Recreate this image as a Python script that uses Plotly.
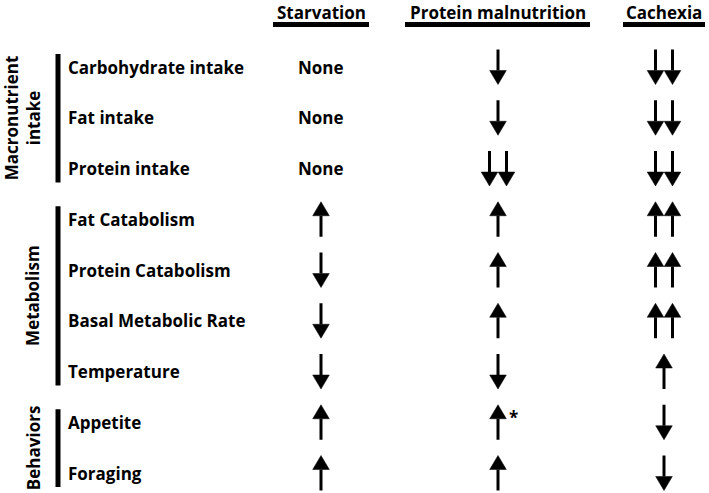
import plotly.graph_objects as go

# ---------------- data ----------------
columns = ["Starvation", "Protein malnutrition", "Cachexia"]
rows = ["Carbohydrate intake", "Fat intake", "Protein intake",
        "Fat Catabolism", "Protein Catabolism", "Basal Metabolic Rate", "Temperature",
        "Appetite", "Foraging"]
groups = ["Macronutrient<br>intake", "Metabolism", "Behaviors"]
group_rows = [[0, 1, 2], [3, 4, 5, 6], [7, 8]]
# value: "None" text, +n = n up arrows, -n = n down arrows
starvation = ["None", "None", "None", 1, -1, -1, -1, 1, 1]
protein_malnutrition = [-1, -1, -2, 1, 1, 1, -1, 1, 1]
cachexia = [-2, -2, -2, 2, 2, 2, 1, -1, -1]
notes_pm = ["", "", "", "", "", "", "", "*", ""]

# ---------------- layout constants ----------------
W, H = 709, 493
FONT = "Open Sans"
FS = 17
col_x = [321, 498, 664]
ul_span = [(273, 369), (405, 590), (623, 705)]
row_y0, row_dy = 67, 50.75
label_x = 66
bar_x = 58
group_label_x = [22, 33, 33]

def ry(i):
    return row_y0 + i * row_dy

shapes = []
annotations = []

def arrow(xc, yc, d):
    L, h, w = 17.5, 14, 8.3
    if d > 0:
        tip, base, tail = yc - L, yc - L + h, yc + L
    else:
        tip, base, tail = yc + L, yc + L - h, yc - L
    shapes.append(dict(type="line", x0=xc, x1=xc, y0=tail, y1=base,
                       line=dict(color="black", width=3), xref="x", yref="y"))
    shapes.append(dict(type="path",
                       path=f"M {xc-w},{base} L {xc+w},{base} L {xc},{tip} Z",
                       fillcolor="black", line=dict(color="black", width=0.5),
                       xref="x", yref="y"))

# headers
for c, name in enumerate(columns):
    annotations.append(dict(x=col_x[c], y=12, text=name, showarrow=False,
                            font=dict(family=FONT, size=FS, color="black", weight=700),
                            xanchor="center", yanchor="middle"))
    shapes.append(dict(type="rect", x0=ul_span[c][0], x1=ul_span[c][1], y0=22, y1=27,
                       fillcolor="black", line=dict(width=0), xref="x", yref="y"))

# row labels
for i, r in enumerate(rows):
    annotations.append(dict(x=label_x, y=ry(i), text=r, showarrow=False,
                            font=dict(family=FONT, size=FS, color="black", weight=700),
                            xanchor="left", yanchor="middle"))

# group bars & labels
for g, name in enumerate(groups):
    idx = group_rows[g]
    y0 = ry(idx[0]) - 13
    y1 = ry(idx[-1]) + 14
    shapes.append(dict(type="rect", x0=bar_x - 2.5, x1=bar_x + 2.5, y0=y0, y1=y1,
                       fillcolor="black", line=dict(width=0), xref="x", yref="y"))
    annotations.append(dict(x=group_label_x[g], y=(y0 + y1) / 2, text=name, showarrow=False,
                            textangle=-90,
                            font=dict(family=FONT, size=FS, color="black", weight=700),
                            xanchor="center", yanchor="middle"))

# cells
for c, series in enumerate([starvation, protein_malnutrition, cachexia]):
    for i, v in enumerate(series):
        yc = ry(i)
        if isinstance(v, str):
            annotations.append(dict(x=col_x[c], y=yc, text=v, showarrow=False,
                                    font=dict(family=FONT, size=FS, color="black", weight=700),
                                    xanchor="center", yanchor="middle"))
            continue
        n = abs(v)
        d = 1 if v > 0 else -1
        if n == 1:
            arrow(col_x[c], yc, d)
        else:
            arrow(col_x[c] - 8.5, yc, d)
            arrow(col_x[c] + 8.5, yc, d)

for i, note in enumerate(notes_pm):
    if note:
        annotations.append(dict(x=col_x[1] + 9, y=ry(i) - 5, text=note, showarrow=False,
                                font=dict(family=FONT, size=17, color="black", weight=700),
                                xanchor="left", yanchor="middle"))

fig = go.Figure()
fig.add_trace(go.Scatter(x=[0, W], y=[0, H], mode="markers",
                         marker=dict(opacity=0), hoverinfo="skip", showlegend=False))
fig.update_layout(
    width=W, height=H, margin=dict(l=0, r=0, t=0, b=0),
    paper_bgcolor="white", plot_bgcolor="white",
    xaxis=dict(range=[0, W], visible=False, fixedrange=True),
    yaxis=dict(range=[H, 0], visible=False, fixedrange=True),
    shapes=shapes, annotations=annotations, showlegend=False,
)
fig.write_html("out.html", config={"displayModeBar": False},
               post_script="document.body.style.margin='0';document.body.style.overflow='hidden';")
